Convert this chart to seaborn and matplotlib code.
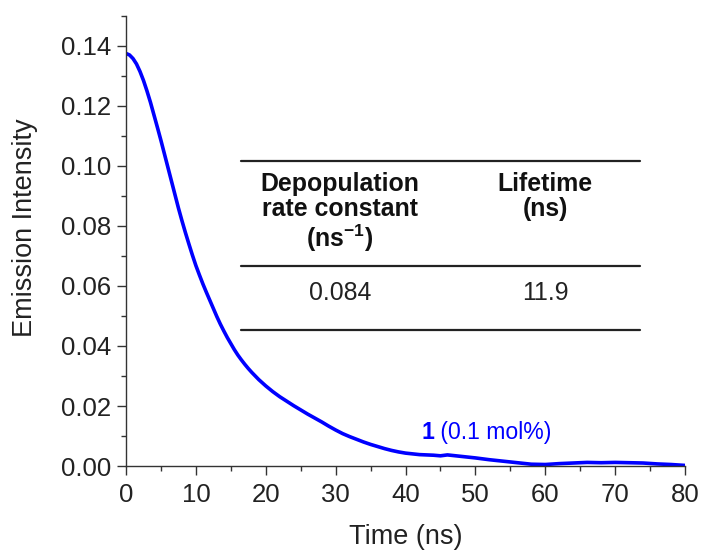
import matplotlib
matplotlib.use("Agg")
import matplotlib.pyplot as plt
import seaborn as sns
import pandas as pd
from matplotlib.ticker import MultipleLocator, FormatStrFormatter

sns.set_theme(style="ticks")
plt.rcParams['font.family'] = ['Liberation Sans', 'DejaVu Sans']
plt.rcParams['mathtext.fontset'] = 'custom'
plt.rcParams['mathtext.rm'] = 'Liberation Sans'
plt.rcParams['mathtext.bf'] = 'Liberation Sans:bold'

time_ns = [0, 0.5, 1, 1.5, 2, 2.5, 3, 3.5, 4, 4.5, 5, 5.5, 6, 6.5, 7, 7.5, 8, 8.5, 9,
           9.5, 10, 10.5, 11, 11.5, 12, 12.5, 13, 13.5, 14, 14.5, 15, 15.5, 16, 16.5,
           17, 17.5, 18, 19, 20, 21, 22, 23, 24, 25, 26, 27, 28, 29, 30, 31, 32, 33,
           34, 35, 36, 37, 38, 39, 40, 42, 44, 45, 46, 48, 50, 52, 54, 56, 58, 60,
           62, 64, 66, 68, 70, 72, 74, 76, 78, 80]
intensity = [0.1375, 0.1370, 0.1358, 0.1340, 0.1315, 0.1285, 0.1250, 0.1212, 0.1170,
             0.1128, 0.1085, 0.1040, 0.0995, 0.0950, 0.0905, 0.0860, 0.0818, 0.0778,
             0.0740, 0.0703, 0.0668, 0.0637, 0.0607, 0.0579, 0.0552, 0.0525, 0.0498,
             0.0473, 0.0450, 0.0428, 0.0408, 0.0388, 0.0370, 0.0354, 0.0339, 0.0325,
             0.0312, 0.0288, 0.0267, 0.0248, 0.0231, 0.0216, 0.0201, 0.0187, 0.0173,
             0.0160, 0.0147, 0.0133, 0.0120, 0.0108, 0.0098, 0.0089, 0.0080, 0.0072,
             0.0065, 0.0058, 0.0052, 0.0047, 0.0043, 0.0038, 0.0036, 0.0034, 0.0037,
             0.0032, 0.0027, 0.0021, 0.0016, 0.0011, 0.0006, 0.0005, 0.0008, 0.0010,
             0.0012, 0.0011, 0.0012, 0.0011, 0.0010, 0.0007, 0.0005, 0.0002]

table_headers = ["Depopulation\nrate constant\n(ns$^{\\mathbf{-1}}$)", "Lifetime\n(ns)"]
table_values = ["0.084", "11.9"]
series_label_bold = "1"
series_label_rest = " (0.1 mol%)"

df = pd.DataFrame({"Time (ns)": time_ns, "Emission Intensity": intensity})

fig = plt.figure(figsize=(7.02, 5.5), dpi=100)
ax = fig.add_axes([0.1795, 0.1527, 0.7963, 0.8183])
sns.lineplot(data=df, x="Time (ns)", y="Emission Intensity", ax=ax,
             color="#0000ff", linewidth=2.6)

ax.set_xlim(0, 80)
ax.set_ylim(0, 0.15)
ax.xaxis.set_major_locator(MultipleLocator(10))
ax.xaxis.set_minor_locator(MultipleLocator(5))
ax.yaxis.set_major_formatter(FormatStrFormatter('%.2f'))
ax.set_yticks([0, 0.02, 0.04, 0.06, 0.08, 0.10, 0.12, 0.14])
ax.yaxis.set_minor_locator(MultipleLocator(0.01))
for s in ["top", "right"]:
    ax.spines[s].set_visible(False)
for s in ["left", "bottom"]:
    ax.spines[s].set_color("#333333")
    ax.spines[s].set_linewidth(1.0)
ax.tick_params(axis='both', which='major', direction='out', length=6.5, width=1,
               labelsize=18.5, colors="#333333", labelcolor="#222222")
ax.tick_params(axis='y', which='major', pad=4)
ax.tick_params(axis='x', which='major', pad=6)
ax.tick_params(axis='both', which='minor', direction='out', length=3.3, width=1,
               colors="#333333")
ax.set_xlabel("Time (ns)", fontsize=19.5, color="#222222", labelpad=12)
ax.set_ylabel("Emission Intensity", fontsize=19.5, color="#222222")
ax.yaxis.set_label_coords(-0.158, 0.529)

x_left, x_right = 16.5, 73.5
for yv in [0.1017, 0.0665, 0.0453]:
    ax.plot([x_left, x_right], [yv, yv], color="#222222", lw=1.6, clip_on=False)
col_x = [30.6, 60.0]
for cx, h in zip(col_x, table_headers):
    ax.text(cx, 0.0980, h, ha="center", va="top", fontsize=17.9, fontweight="bold",
            color="#111111", linespacing=1.05)
for cx, v in zip(col_x, table_values):
    ax.text(cx, 0.0575, v, ha="center", va="center", fontsize=17.9, color="#222222")

t1 = ax.text(42.3, 0.0113, series_label_bold, ha="left", va="center", fontsize=16.6,
             fontweight="bold", color="#0000ff")
fig.canvas.draw()
bb = t1.get_window_extent()
inv = ax.transData.inverted()
x_end = inv.transform((bb.x1, bb.y0))[0]
ax.text(x_end, 0.0113, series_label_rest, ha="left", va="center", fontsize=16.6,
        color="#0000ff")

fig.savefig("out.png", dpi=100)
